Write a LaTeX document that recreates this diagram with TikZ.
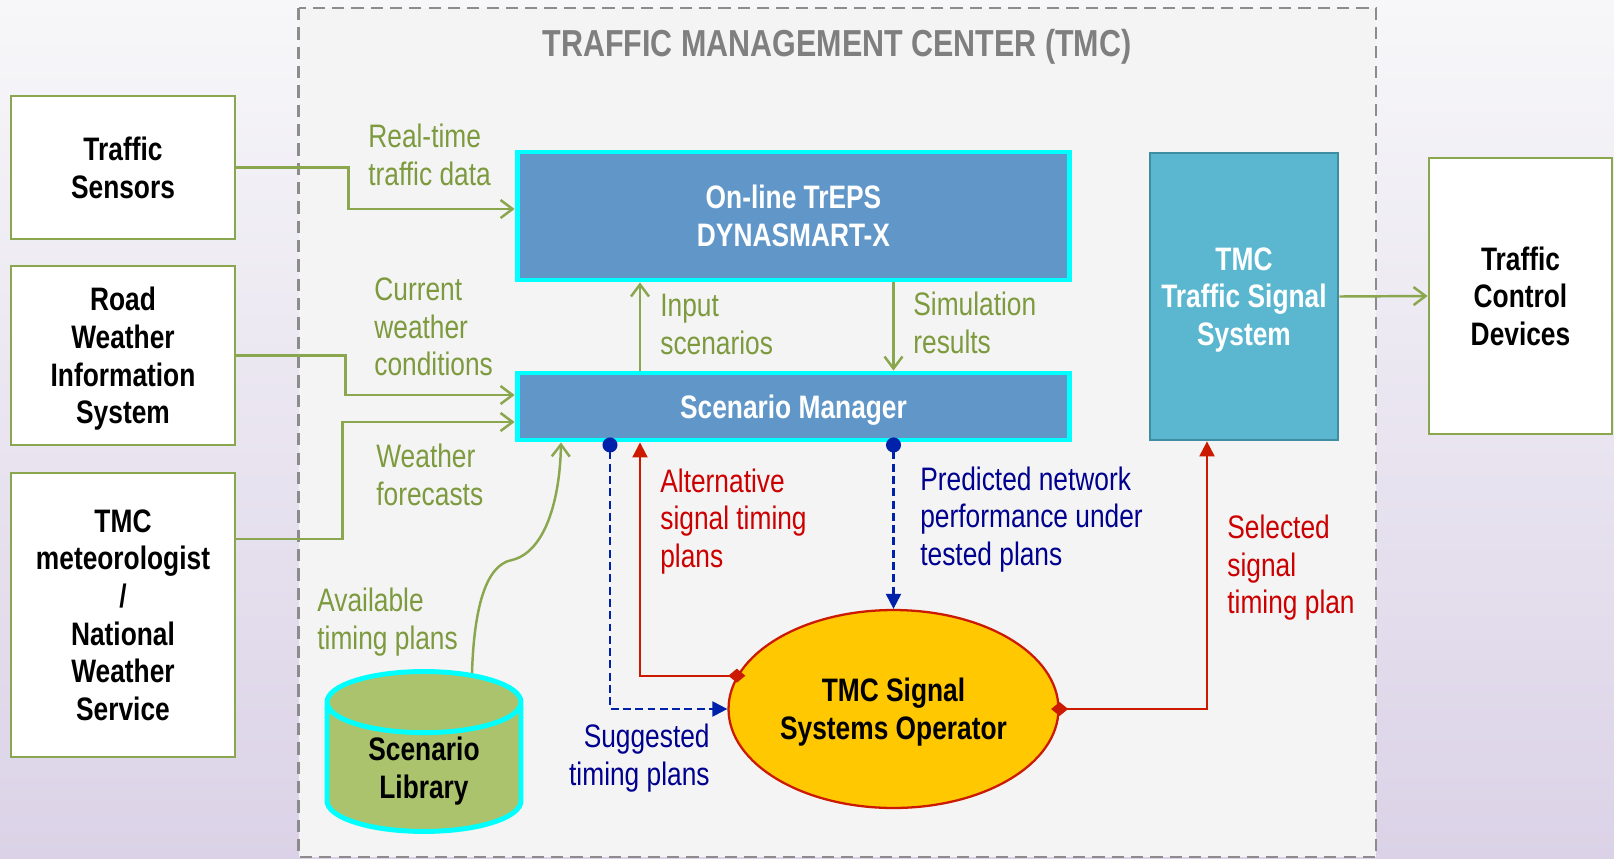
\documentclass[tikz,border=0pt]{standalone}
\usepackage{fontspec}
\setmainfont{Liberation Sans}[FakeStretch=0.81]
\usetikzlibrary{arrows.meta,shapes.geometric}

\definecolor{bgtop}{HTML}{F7F7F9}
\definecolor{bgbottom}{HTML}{DBD2E7}
\definecolor{tmcfill}{HTML}{F4F4F4}
\definecolor{tmcdash}{HTML}{8C8C8C}
\definecolor{titlegray}{HTML}{7F7F7F}
\definecolor{linegreen}{HTML}{8AA64E}
\definecolor{textgreen}{HTML}{7D9A3E}
\definecolor{boxblue}{HTML}{6096C8}
\definecolor{boxcyan}{HTML}{00FFFF}
\definecolor{tssblue}{HTML}{5BB7D0}
\definecolor{tssedge}{HTML}{3F8DA3}
\definecolor{opyellow}{HTML}{FFC800}
\definecolor{opred}{HTML}{CC1A00}
\definecolor{altred}{HTML}{CC0000}
\definecolor{testblue}{HTML}{0022AA}
\definecolor{textblue}{HTML}{00008F}
\definecolor{libgreen}{HTML}{AAC36C}

\begin{document}
\begin{tikzpicture}[x=0.02cm,y=-0.02cm,
    every node/.style={inner sep=0pt, text depth=0pt, font=\fontsize{18.5}{21.4}\selectfont},
    bold/.style={font=\fontsize{18.5}{21.4}\selectfont\bfseries, align=center},
    outbox/.style={bold, draw=linegreen, line width=1.6pt, fill=white},
    bluebox/.style={bold, draw=boxcyan, line width=2.8pt, fill=boxblue, text=white},
    flow/.style={draw=linegreen, line width=1.4pt, -{Straight Barb[length=0.24cm,width=0.36cm]}},
    altflow/.style={draw=opred, line width=1.2pt, {Diamond[length=0.34cm,width=0.28cm]}-{Triangle[length=0.3cm,width=0.3cm]}},
    testflow/.style={draw=testblue, line width=1.2pt, dash pattern=on 4.5pt off 2.5pt, {Circle[length=0.3cm]}-{Triangle[length=0.3cm,width=0.3cm]}},
    greenlabel/.style={text=textgreen, align=left, anchor=west},
    redlabel/.style={text=altred, align=left, anchor=west},
    bluelabel/.style={text=textblue, align=left, anchor=west}]

    %background
    \useasboundingbox (0,0) rectangle (1614,859);
    \shade[top color=bgtop, bottom color=bgbottom] (0,0) rectangle (1614,859);
    \draw[tmcdash, fill=tmcfill, line width=1.3pt, dash pattern=on 7pt off 4pt] (298.5,8) rectangle (1376,857);
    \node[text=titlegray, font=\fontsize{21.4}{25}\selectfont\bfseries] (title) at (837,43) {TRAFFIC MANAGEMENT CENTER (TMC)};

    %outside boxes
    \node[outbox, minimum width=4.48cm, minimum height=2.86cm] (sensors) at (123,167.5) {Traffic\\Sensors};
    \node[outbox, minimum width=4.48cm, minimum height=3.58cm] (rwis) at (123,355.5) {Road\\Weather\\Information\\System};
    \node[outbox, minimum width=4.48cm, minimum height=5.68cm] (meteo) at (123,615) {TMC\\meteorologist\\/\\National\\Weather\\Service};
    \node[outbox, minimum width=3.66cm, minimum height=5.52cm] (tcd) at (1520.5,296) {Traffic\\Control\\Devices};

    %tmc boxes
    \node[bluebox, minimum width=11.06cm, minimum height=2.56cm] (treps) at (793.5,216) {On-line TrEPS\\DYNASMART-X};
    \node[bluebox, minimum width=11.06cm, minimum height=1.34cm] (sm) at (793.5,406.5) {Scenario Manager};
    \node[bold, fill=tssblue, draw=tssedge, line width=1.6pt, text=white, minimum width=3.76cm, minimum height=5.74cm] (tss) at (1244,296.5) {TMC\\Traffic Signal\\System};
    \node[bold, ellipse, fill=opyellow, draw=opred, line width=1.3pt, minimum width=6.6cm, minimum height=3.96cm] (op) at (893.5,709) {TMC Signal\\Systems Operator};
    \node[bold, cylinder, shape border rotate=90, aspect=0.55, fill=libgreen, draw=boxcyan, line width=2.8pt, minimum width=3.88cm, minimum height=3.2cm] (lib) at (424,768) {Scenario\\Library};

    %arrows in
    \draw[flow] (sensors.east) -- ++(112,0) |- ([yshift=0.14cm]treps.west);
    \draw[flow] (rwis.east) -- ++(109,0) |- ([yshift=0.23cm]sm.west);
    \draw[flow] ([yshift=1.52cm]meteo.east) -- ++(106,0) |- ([yshift=-0.31cm]sm.west);
    \draw[flow] (sm.north -| 640,0) -- (treps.south -| 640,0);
    \draw[flow] (treps.south -| op.north) -- (sm.north -| op.north);
    \draw[flow] ([xshift=0.96cm,yshift=-0.08cm]lib.north) .. controls (474,610) and (485,565) .. (512,560)
        .. controls (545,552) and (560,500) .. (sm.south -| 561,0);
    \draw[flow] (tss.east) -- (tcd.west);

    %operator loop
    \draw[testflow] ([yshift=0.1cm]sm.south -| 610,0) |- (op.west);
    \draw[altflow] ([xshift=0.17cm]op.168) -| (sm.south -| 640,0);
    \draw[testflow] ([yshift=0.1cm]sm.south -| op.north) -- (op.north);
    \draw[altflow] ([xshift=-0.17cm]op.east) -| (tss.south -| 1207,0);

    %labels
    \node[greenlabel] (lrt) at (368,155) {Real-time\\traffic data};
    \node[greenlabel] (lcw) at (374,327) {Current\\weather\\conditions};
    \node[greenlabel] (lwf) at (376,474.5) {Weather\\forecasts};
    \node[greenlabel] (lat) at (317,618.5) {Available\\timing plans};
    \node[greenlabel] (lin) at (660,324.5) {Input\\scenarios};
    \node[greenlabel] (lsr) at (913,322.5) {Simulation\\results};
    \node[redlabel] (lalt) at (660,518) {Alternative\\signal timing\\plans};
    \node[bluelabel] (lpre) at (920,516) {Predicted network\\performance under\\tested plans};
    \node[bluelabel, anchor=east, align=right] (lsug) at (710,754.5) {Suggested\\timing plans};
    \node[redlabel] (lsel) at (1227,564.5) {Selected\\signal\\timing plan};
\end{tikzpicture}
\end{document}
